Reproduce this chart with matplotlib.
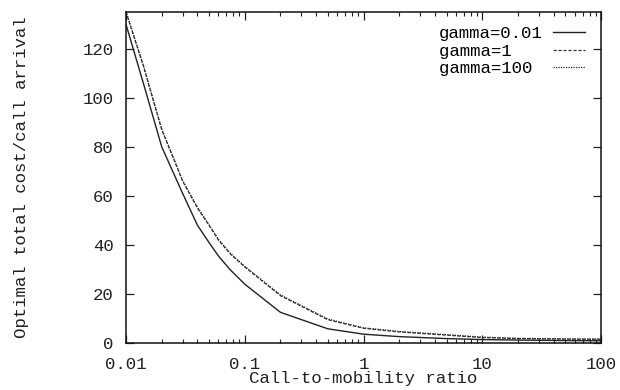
import numpy as np
import matplotlib
matplotlib.use("Agg")
import matplotlib.pyplot as plt

plt.rcParams['font.family'] = ['Liberation Mono', 'DejaVu Sans Mono']

# call-to-mobility ratio (x) and optimal cost values
ratio = [0.01, 0.014, 0.02, 0.03, 0.04, 0.05, 0.06, 0.075, 0.1, 0.2, 0.5,
         1, 2, 5, 10, 20, 50, 100]
cost_g001 = [130, 106, 80, 61, 48, 41, 35.5, 30, 24, 12.5, 5.8,
             3.6, 2.6, 1.8, 1.4, 1.2, 1.0, 0.9]
cost_g1 = [135, 113, 87, 66, 55, 48, 42, 36.5, 31, 19.3, 9.5,
           6.0, 4.5, 3.2, 2.2, 1.8, 1.6, 1.5]
cost_g100 = [135.3, 113.3, 87.3, 66.3, 55.3, 48.3, 42.3, 36.8, 31.3, 19.6, 9.8,
             6.2, 4.7, 3.4, 2.4, 1.9, 1.7, 1.6]
labels = ['gamma=0.01', 'gamma=1', 'gamma=100']

fig = plt.figure(figsize=(6.2, 3.9), dpi=100)
ax = fig.add_axes([0.2032, 0.1205, 0.7662, 0.8487])

# pad labels to equal width (monospace) so text looks left-aligned like gnuplot key
w = max(len(l) for l in labels)
padded = [l.ljust(w) for l in labels]

ax.plot(ratio, cost_g001, color='#222222', lw=1.0, ls='-', label=padded[0])
ax.plot(ratio, cost_g1, color='#333333', lw=0.9, ls=(0, (2.5, 1.5)), label=padded[1])
ax.plot(ratio, cost_g100, color='#222222', lw=0.9, ls=(0, (1, 1)), label=padded[2])

ax.set_xscale('log')
ax.set_xlim(0.01, 100)
ax.set_ylim(0, 135)
ax.set_xticks([0.01, 0.1, 1, 10, 100])
ax.set_xticklabels(['0.01', '0.1', '1', '10', '100'])
ax.set_yticks(range(0, 121, 20))

ax.tick_params(which='both', direction='in', top=True, right=True, labelsize=12.5,
               colors='#222222')
ax.tick_params(which='major', length=6, width=0.9)
ax.tick_params(which='minor', length=3, width=0.8)
ax.tick_params(axis='x', which='major', pad=10)
ax.tick_params(axis='y', which='major', pad=9)
for s in ax.spines.values():
    s.set_linewidth(1.1)
    s.set_color('#111111')

ax.set_xlabel('Call-to-mobility ratio', fontsize=12.5, color='#222222')
ax.xaxis.set_label_coords(0.5, -0.085, transform=ax.transAxes)
ax.xaxis.label.set_va('top')
ax.set_ylabel('Optimal total cost/call arrival', fontsize=12.5, color='#222222')
ax.yaxis.set_label_coords(-0.205, 0.5)

ax.legend(loc='upper right', frameon=False, markerfirst=False, fontsize=12.5,
          handlelength=1.85, handletextpad=0.6, labelspacing=0.12,
          borderaxespad=0, borderpad=0, bbox_to_anchor=(0.966, 0.957))

fig.savefig('out.png', dpi=100)
